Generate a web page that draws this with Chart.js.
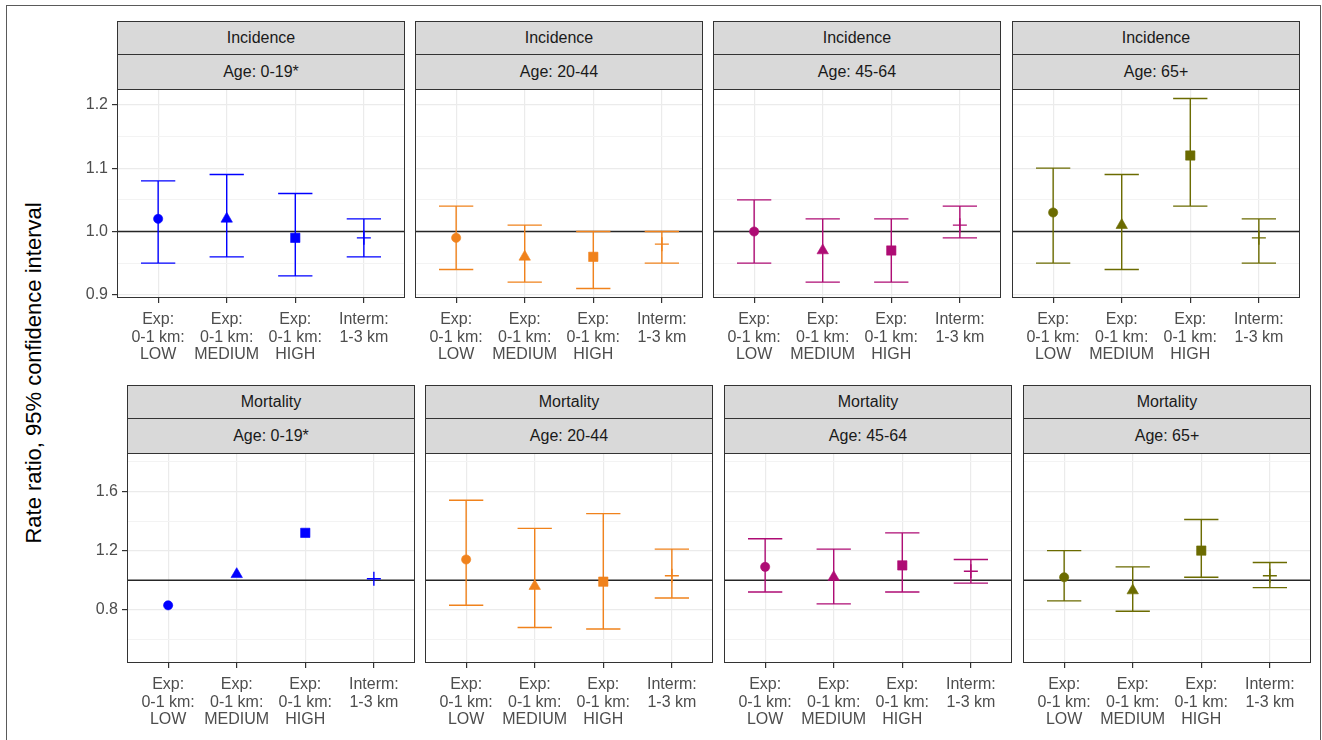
<!DOCTYPE html>
<html>
<head>
<meta charset="utf-8">
<script src="https://cdn.jsdelivr.net/npm/chart.js@4.4.1/dist/chart.umd.min.js"></script>
<style>
  html, body { margin: 0; padding: 0; background: #ffffff; }
  body { width: 1322px; height: 740px; position: relative; overflow: hidden;
         font-family: "Liberation Sans", Arial, Helvetica, sans-serif; }
  .frame { position: absolute; left: 6px; top: 5px; width: 1315px; height: 800px;
           border: 1px solid #5a5a5a; box-sizing: border-box; }
  .strip { position: absolute; box-sizing: border-box; background: #D9D9D9;
           border: 1px solid #333333; color: #1A1A1A; font-size: 16px; text-align: center; }
  .panel { position: absolute; }
  .ytitle { position: absolute; width: 460px; height: 24px; line-height: 24px;
            text-align: center; font-size: 22px; color: #000; transform: rotate(-90deg); white-space: nowrap; }
</style>
</head>
<body>
<div class="frame"></div>
<script>
// ---------------- data ----------------
const outcomes = ['Incidence', 'Mortality'];
const ageGroups = ['Age: 0-19*', 'Age: 20-44', 'Age: 45-64', 'Age: 65+'];
const categories = [
  ['Exp:', '0-1 km:', 'LOW'],
  ['Exp:', '0-1 km:', 'MEDIUM'],
  ['Exp:', '0-1 km:', 'HIGH'],
  ['Interm:', '1-3 km']
];
const yTitle = 'Rate ratio, 95% confidence interval';

// Incidence: rate ratio, lower and upper 95% CI, one row per age group
const incidenceRR = [
  [1.02, 1.02, 0.99, 0.99],
  [0.99, 0.96, 0.96, 0.98],
  [1.00, 0.97, 0.97, 1.01],
  [1.03, 1.01, 1.12, 0.99]
];
const incidenceLower = [
  [0.95, 0.96, 0.93, 0.96],
  [0.94, 0.92, 0.91, 0.95],
  [0.95, 0.92, 0.92, 0.99],
  [0.95, 0.94, 1.04, 0.95]
];
const incidenceUpper = [
  [1.08, 1.09, 1.06, 1.02],
  [1.04, 1.01, 1.00, 1.00],
  [1.05, 1.02, 1.02, 1.04],
  [1.10, 1.09, 1.21, 1.02]
];

// Mortality
const mortalityRR = [
  [0.83, 1.04, 1.32, 1.01],
  [1.14, 0.96, 0.99, 1.03],
  [1.09, 1.02, 1.10, 1.06],
  [1.02, 0.93, 1.20, 1.03]
];
const mortalityLower = [
  [null, null, null, null],
  [0.83, 0.68, 0.67, 0.88],
  [0.92, 0.84, 0.92, 0.98],
  [0.86, 0.79, 1.02, 0.95]
];
const mortalityUpper = [
  [null, null, null, null],
  [1.54, 1.35, 1.45, 1.21],
  [1.28, 1.21, 1.32, 1.14],
  [1.20, 1.09, 1.41, 1.12]
];

// axis ticks
const incidenceTickLabels = [0.9, 1.0, 1.1, 1.2];
const incidenceGridValues = [0.9, 0.95, 1.0, 1.05, 1.1, 1.15, 1.2];
const incidenceRange = [0.895, 1.225];
const mortalityTickLabels = [0.8, 1.2, 1.6];
const mortalityGridValues = [0.6, 0.8, 1.0, 1.2, 1.4, 1.6, 1.8];
const mortalityRange = [0.44, 1.86];
const referenceValue = 1.0;

// ---------------- styles / layout ----------------
const ageColors = ['#0000FF', '#F0821C', '#AE0C74', '#6B6B00'];
const markerStyles = ['circle', 'triangle', 'rect', 'cross'];
const markerRadii = [4.6, 6.6, 6.6, 7];
const markerBorder = [0.6, 0.6, 0.6, 1.4];

const layout = {
  rows: [
    { stripTop: 21, plotTop: 89, plotH: 209, lefts: [117, 415, 713, 1012] },
    { stripTop: 385, plotTop: 453, plotH: 210, lefts: [127, 425, 724, 1023] }
  ],
  panelW: 288, strip1H: 34, xAxisH: 74, yAxisW: 44
};

Chart.defaults.font.family = '"Liberation Sans", Arial, Helvetica, sans-serif';
Chart.defaults.font.size = 16;
Chart.defaults.color = '#4D4D4D';

const errorBarPlugin = {
  id: 'errorBars',
  beforeDatasetsDraw(chart, args, opts) {
    const { ctx, chartArea: a } = chart;
    const xs = chart.scales.x, ys = chart.scales.y;
    ctx.save();
    ctx.beginPath();
    ctx.rect(a.left, a.top, a.right - a.left, a.bottom - a.top);
    ctx.clip();
    const yr = ys.getPixelForValue(opts.refValue);
    ctx.strokeStyle = '#262626';
    ctx.lineWidth = 1.4;
    ctx.beginPath();
    ctx.moveTo(a.left, yr);
    ctx.lineTo(a.right, yr);
    ctx.stroke();
    chart.data.datasets.forEach(ds => {
      ctx.strokeStyle = ds.borderColor;
      ctx.lineWidth = 1.4;
      ds.data.forEach((p, i) => {
        const lo = ds.lower[i], hi = ds.upper[i];
        if (lo == null || hi == null) return;
        const px = xs.getPixelForValue(p.x);
        const l = xs.getPixelForValue(p.x - opts.capHalf);
        const r = xs.getPixelForValue(p.x + opts.capHalf);
        const yl = ys.getPixelForValue(lo), yh = ys.getPixelForValue(hi);
        ctx.beginPath();
        ctx.moveTo(px, yl); ctx.lineTo(px, yh);
        ctx.moveTo(l, yl); ctx.lineTo(r, yl);
        ctx.moveTo(l, yh); ctx.lineTo(r, yh);
        ctx.stroke();
      });
    });
    ctx.restore();
  },
  afterDraw(chart) {
    const { ctx, chartArea: a } = chart;
    ctx.save();
    ctx.strokeStyle = '#333333';
    ctx.lineWidth = 1;
    ctx.strokeRect(a.left + 0.5, a.top + 0.5, a.right - a.left - 1, a.bottom - a.top - 1);
    ctx.restore();
  }
};

function zeroPadding(s) {
  s.paddingTop = 0; s.paddingBottom = 0; s.paddingLeft = 0; s.paddingRight = 0;
}

function addStrip(text, left, top, height) {
  const d = document.createElement('div');
  d.className = 'strip';
  d.style.left = left + 'px';
  d.style.top = top + 'px';
  d.style.width = layout.panelW + 'px';
  d.style.height = height + 'px';
  d.style.lineHeight = (height - 2) + 'px';
  d.textContent = text;
  document.body.appendChild(d);
}

const outcomeData = [
  { rr: incidenceRR, lo: incidenceLower, hi: incidenceUpper,
    labels: incidenceTickLabels, grid: incidenceGridValues, range: incidenceRange },
  { rr: mortalityRR, lo: mortalityLower, hi: mortalityUpper,
    labels: mortalityTickLabels, grid: mortalityGridValues, range: mortalityRange }
];

outcomes.forEach((outcome, r) => {
  const row = layout.rows[r];
  const od = outcomeData[r];
  const isMajor = v => od.labels.some(t => Math.abs(t - v) < 1e-9);
  ageGroups.forEach((age, g) => {
    const plotLeft = row.lefts[g];
    addStrip(outcome, plotLeft, row.stripTop, layout.strip1H);
    addStrip(age, plotLeft, row.stripTop + layout.strip1H - 1, row.plotTop - (row.stripTop + layout.strip1H - 1) + 1);

    const isLeft = g === 0;
    const axisW = isLeft ? layout.yAxisW : 0;
    const wrap = document.createElement('div');
    wrap.className = 'panel';
    wrap.style.left = (plotLeft - axisW) + 'px';
    wrap.style.top = row.plotTop + 'px';
    const cv = document.createElement('canvas');
    cv.width = layout.panelW + axisW;
    cv.height = row.plotH + layout.xAxisH;
    cv.style.width = cv.width + 'px';
    cv.style.height = cv.height + 'px';
    wrap.appendChild(cv);
    document.body.appendChild(wrap);

    new Chart(cv, {
      type: 'scatter',
      data: {
        datasets: [{
          data: od.rr[g].map((v, i) => ({ x: i, y: v })),
          lower: od.lo[g],
          upper: od.hi[g],
          pointStyle: markerStyles,
          pointRadius: markerRadii,
          pointBorderWidth: markerBorder,
          backgroundColor: ageColors[g],
          borderColor: ageColors[g]
        }]
      },
      plugins: [errorBarPlugin],
      options: {
        responsive: false,
        animation: false,
        devicePixelRatio: 1,
        events: [],
        layout: { padding: 0, autoPadding: false },
        plugins: {
          legend: { display: false },
          tooltip: { enabled: false },
          errorBars: { refValue: referenceValue, capHalf: 0.25 }
        },
        scales: {
          x: {
            type: 'linear', min: -0.6, max: 3.6,
            afterBuildTicks: s => { s.ticks = categories.map((c, i) => ({ value: i })); },
            afterFit: s => { s.height = layout.xAxisH; zeroPadding(s); },
            ticks: {
              autoSkip: false, maxRotation: 0, minRotation: 0, padding: 8,
              color: '#4D4D4D', font: { size: 16, lineHeight: 1.1 },
              callback: v => categories[Math.round(v)]
            },
            grid: { color: '#EBEBEB', lineWidth: 1.2, drawTicks: true, tickLength: 5, tickColor: '#333333' },
            border: { display: false }
          },
          y: {
            type: 'linear', min: od.range[0], max: od.range[1],
            afterBuildTicks: s => { s.ticks = od.grid.map(v => ({ value: v })); },
            afterFit: s => { s.width = axisW; zeroPadding(s); },
            ticks: {
              display: isLeft, autoSkip: false, padding: 4, color: '#4D4D4D',
              font: { size: 16 },
              callback: v => isMajor(v) ? v.toFixed(1) : ''
            },
            grid: {
              color: c => isMajor(c.tick.value) ? '#EBEBEB' : '#F3F3F3',
              lineWidth: c => isMajor(c.tick.value) ? 1.2 : 1,
              drawTicks: isLeft, tickLength: 5,
              tickColor: c => isMajor(c.tick.value) ? '#333333' : 'rgba(0,0,0,0)'
            },
            border: { display: false }
          }
        }
      }
    });
  });
});

const t = document.createElement('div');
t.className = 'ytitle';
t.textContent = yTitle;
t.style.left = (34 - 230) + 'px';
t.style.top = (373 - 12) + 'px';
document.body.appendChild(t);
</script>
</body>
</html>
